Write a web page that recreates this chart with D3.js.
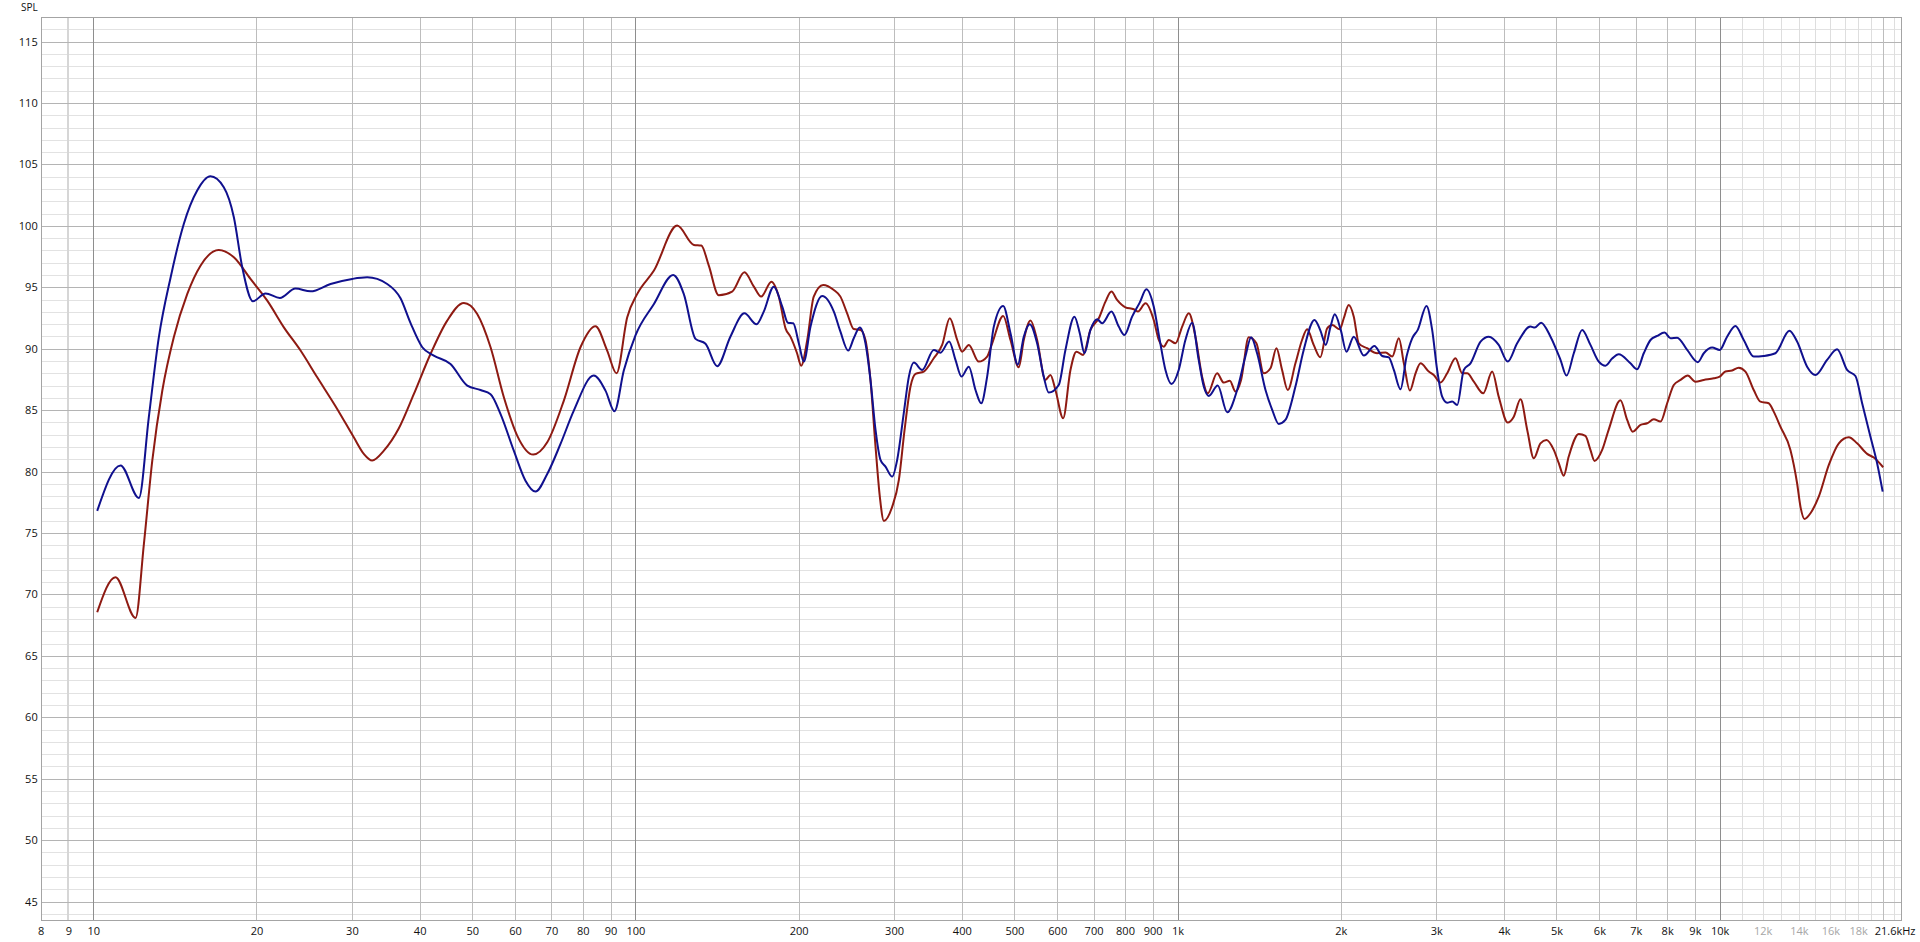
<!DOCTYPE html>
<html><head><meta charset="utf-8">
<script src="https://cdn.jsdelivr.net/npm/d3@7"></script>
<style>
body{margin:0;background:#fff}
svg{display:block}
text{font-family:"Open Sans","DejaVu Sans",sans-serif}
</style>
</head><body>
<svg id="c" width="1920" height="942"></svg>
<script>
// ---- data ----
const yTicks = [45,50,55,60,65,70,75,80,85,90,95,100,105,110,115];
const xTickValues = [8,9,10,20,30,40,50,60,70,80,90,100,200,300,400,500,600,700,800,900,1000,2000,3000,4000,5000,6000,7000,8000,9000,10000,12000,14000,16000,18000,21600];
const xTickLabels = ["8","9","10","20","30","40","50","60","70","80","90","100","200","300","400","500","600","700","800","900","1k","2k","3k","4k","5k","6k","7k","8k","9k","10k","12k","14k","16k","18k","21.6kHz"];
const lightLabels = ["12k","14k","16k","18k"];

const blueHz = [10.17,11.23,12.14,12.66,13.21,13.89,14.69,15.55,16.45,17.41,18.17,18.83,19.7,20.79,22.09,23.61,25.17,27.4,30.04,32.01,34.85,36.88,38.47,40.45,42.48,45.6,48.96,51.8,54.06,56.38,59.67,62.7,65.43,68.77,72.76,76.99,83.8,88.07,91.5,95.2,100,108.2,117.4,122.8,129.1,134.7,141.5,149.7,158.9,167.3,172.5,180,186.6,191.1,195.5,200.2,204.5,210.4,221.1,232.3,238.9,246.9,252.8,259.4,265.7,271.4,277.3,283.2,289.3,297.7,304,312.6,319.5,326.3,338.1,355.1,365.4,379.1,389.4,399.4,412.1,424,434.4,445.5,458.3,476.9,491.9,507.4,520.5,533.9,550.8,566.5,578.6,603.8,621.2,645.4,660.2,673.5,690.8,710.8,725.9,755.2,779,798.1,824.6,851.6,876.1,903.8,927.2,950,974.5,1005,1034,1064,1094,1118,1142,1186,1235,1288,1334,1367,1402,1453,1495,1537,1581,1650,1709,1789,1834,1877,1915,1950,2000,2049,2114,2206,2308,2385,2453,2506,2578,2645,2709,2774,2879,2949,3012,3077,3143,3210,3280,3373,3470,3622,3751,3912,4065,4231,4477,4560,4684,4875,5086,5218,5382,5576,5776,5984,6157,6334,6513,6846,7043,7244,7454,7669,7911,8115,8349,8710,9112,9348,9687,10000,10320,10690,11076,11556,12056,12668,13447,13893,14496,15016,15781,16467,17179,17799,18313,18967,19516,19983];
const blueDb = [76.8,80.5,77.85,84.4,90.9,95.8,100.15,102.87,104.03,103.14,100.7,96.63,93.86,94.5,94.13,94.9,94.67,95.27,95.68,95.81,95.27,94.1,92.1,90.12,89.44,88.76,87.0,86.64,86.3,84.7,81.7,79.26,78.37,79.8,82.25,84.96,87.81,86.59,84.91,88.22,91.07,93.64,96.0,94.46,90.8,90.4,88.58,90.98,92.88,91.99,93.02,95.05,93.43,92.12,92.07,90.44,88.95,91.8,94.29,93.02,91.39,89.85,90.85,91.72,90.44,87.46,83.39,80.95,80.4,79.59,80.95,84.74,87.73,88.87,88.27,89.9,89.68,90.58,89.09,87.73,88.54,86.64,85.56,87.73,91.8,93.48,91.26,88.7,90.98,91.99,90.44,87.73,86.43,87.05,89.9,92.61,91.26,89.63,91.53,92.4,92.07,93.02,91.8,91.12,92.61,93.75,94.84,93.43,90.71,88.27,87.13,88.27,90.71,92.12,89.09,86.92,86.16,87.0,84.83,86.64,89.36,90.93,89.63,86.64,85.02,83.88,84.2,86.92,89.9,92.34,91.5,90.31,91.8,92.8,91.53,89.76,90.98,89.44,90.22,89.41,89.3,88.27,86.7,89.36,90.85,91.53,93.48,91.53,88.27,86.1,85.61,85.7,85.42,88.27,88.81,90.58,90.98,90.31,88.95,90.44,91.8,91.72,92.12,90.98,89.09,87.81,89.63,91.53,90.31,88.95,88.62,89.2,89.55,88.81,88.33,89.63,90.71,91.04,91.31,90.85,90.9,89.9,88.9,89.63,90.09,89.9,90.98,91.85,90.71,89.36,89.41,89.63,91.47,90.58,88.54,87.86,89.09,89.95,88.27,87.78,85.56,82.85,80.68,78.37];

const redHz = [10.17,10.99,11.97,12.4,12.85,13.41,14.08,14.91,15.77,17.04,18.17,19.5,20.94,22.47,24.12,25.89,28.18,30.24,31.56,32.7,34.36,36.6,39.02,41.89,44.97,48.27,51.08,54.06,57.2,60.53,64.8,68.77,73.8,79.2,84.4,88.7,92.3,96.6,100.8,108.2,119.4,128.2,132.3,136.5,142.5,150.8,158.9,165.4,170.6,178.2,183.9,189.2,193.2,198.7,202.2,207.5,213.3,222,232.3,238.9,245.8,252.8,260.2,265.7,271.4,277.3,282.4,287.3,297.7,306.2,313.7,321.7,328.6,340.4,355.1,368,380.1,392.3,400.6,412.1,429.9,445.5,455.1,476.9,491.9,509.5,520.5,535.5,550.8,570.5,582.9,595.4,615.2,634.6,650.9,669.6,690.8,715.7,736.4,755.2,773.6,801.5,830.4,844.7,872.9,903.8,923.5,943.3,963.4,991.3,1020,1049,1079,1110,1137,1183,1217,1249,1279,1310,1353,1398,1442,1484,1522,1559,1597,1650,1697,1734,1783,1834,1888,1929,1992,2026,2069,2114,2159,2237,2334,2420,2489,2560,2615,2683,2748,2807,2907,2969,3055,3143,3256,3350,3422,3520,3663,3805,3912,4065,4171,4292,4416,4541,4671,4792,4943,5049,5157,5267,5497,5655,5776,5876,6071,6240,6561,6751,6914,7144,7350,7559,7778,8001,8229,8466,8732,9019,9348,9755,10000,10245,10541,10842,11156,11556,11888,12314,12580,12942,13505,13893,14093,14336,14705,15233,15898,16588,17303,17928,18707,19244,20024];
const redDb = [68.55,71.4,68.09,74.1,80.9,86.6,90.93,94.46,96.76,98.04,97.44,95.68,93.91,91.74,89.85,87.67,85.1,82.79,81.44,80.9,81.7,83.5,86.3,89.57,92.29,93.72,92.83,90.12,86.05,82.93,81.38,82.38,85.78,90.12,91.83,89.85,88.0,92.56,94.46,96.36,100.02,98.45,98.4,96.8,94.35,94.65,96.22,95.05,94.24,95.46,94.24,91.66,90.98,89.63,88.62,90.71,94.24,95.19,94.78,94.24,92.88,91.6,91.53,90.71,87.46,82.03,77.96,75.98,77.15,79.32,83.39,86.92,87.95,88.14,89.22,90.31,92.48,90.71,89.76,90.31,88.95,89.36,90.44,92.67,90.71,88.49,90.71,92.29,90.71,87.46,87.87,86.64,84.34,88.27,89.76,89.49,91.53,92.48,93.83,94.65,93.97,93.37,93.21,93.02,93.7,92.34,90.71,90.17,90.71,90.44,91.8,92.88,90.98,87.73,86.37,88.0,87.24,87.4,86.51,87.46,90.93,90.44,88.0,88.41,90.04,88.27,86.64,88.81,90.71,91.58,90.31,89.3,91.66,91.93,91.58,92.48,93.56,92.61,90.44,90.04,89.63,89.7,89.36,90.85,88.81,86.59,88.0,88.81,88.14,87.86,87.24,88.0,89.22,88.0,88.0,87.32,86.37,88.14,86.1,83.99,84.47,85.88,83.39,81.08,82.3,82.57,81.76,80.68,79.67,81.22,83.06,82.9,81.76,80.87,81.76,83.4,85.8,84.2,83.25,83.8,83.93,84.26,84.07,85.56,87.05,87.46,87.81,87.32,87.46,87.59,87.73,88.14,88.22,88.46,88.14,86.64,85.69,85.56,84.88,83.66,81.76,79.05,77.15,76.14,76.61,77.96,80.54,82.3,82.79,82.3,81.44,81.14,80.35];

// ---- scales ----
const svg = d3.select("#c");
const x = d3.scaleLog().domain([8, 21600]).range([40.7, 1901]);
const y = d3.scaleLinear().domain([43.5, 117]).range([920, 17]);
const X0 = x.range()[0], X1 = x.range()[1], Y0 = y.range()[1], Y1 = y.range()[0];

const g = svg.append("g").attr("shape-rendering", "crispEdges");

// horizontal minor grid (1 dB)
const minorY = d3.range(44, 117).filter(v => v % 5 !== 0);
g.selectAll(".hmin").data(minorY).join("line")
  .attr("x1", X0).attr("x2", X1)
  .attr("y1", d => Math.round(y(d)) + 0.5).attr("y2", d => Math.round(y(d)) + 0.5)
  .attr("stroke", "#e2e2e2").attr("stroke-width", 1);

// vertical grid
const vLight = [11000,12000,13000,14000,15000,16000,17000,18000,19000,21000];
const vMid = [20,30,40,50,60,70,80,90,200,300,400,500,600,700,800,900,2000,3000,4000,5000,6000,7000,8000,9000,20000];
const vDec = [10,100,1000,10000];
g.selectAll(".vl").data(vLight).join("line")
  .attr("x1", d => Math.round(x(d)) + 0.5).attr("x2", d => Math.round(x(d)) + 0.5)
  .attr("y1", Y0).attr("y2", Y1).attr("stroke", "#dedede");
g.append("line").datum(9)
  .attr("x1", d => Math.round(x(d))).attr("x2", d => Math.round(x(d)))
  .attr("y1", Y0).attr("y2", Y1).attr("stroke", "#d6d6d6").attr("stroke-width", 2);

// horizontal major grid (5 dB)
g.selectAll(".hmaj").data(yTicks).join("line")
  .attr("x1", X0).attr("x2", X1)
  .attr("y1", d => Math.round(y(d)) + 0.5).attr("y2", d => Math.round(y(d)) + 0.5)
  .attr("stroke", "#b4b4b4");

g.selectAll(".vm").data(vMid).join("line")
  .attr("x1", d => Math.round(x(d)) + 0.5).attr("x2", d => Math.round(x(d)) + 0.5)
  .attr("y1", Y0).attr("y2", Y1).attr("stroke", "#bdbdbd");
g.selectAll(".vd").data(vDec).join("line")
  .attr("x1", d => Math.round(x(d)) + 0.5).attr("x2", d => Math.round(x(d)) + 0.5)
  .attr("y1", Y0).attr("y2", Y1).attr("stroke", "#8e8e8e");

// border
g.append("rect")
  .attr("x", Math.round(X0) + 0.5).attr("y", Math.round(Y0) + 0.5)
  .attr("width", Math.round(X1) - Math.round(X0)).attr("height", Math.round(Y1) - Math.round(Y0))
  .attr("fill", "none").attr("stroke", "#a4a4a4");

// ---- axes ----
const ax = svg.append("g").attr("transform", `translate(0,${Y1})`)
  .call(d3.axisBottom(x).tickValues(xTickValues).tickFormat((d, i) => xTickLabels[i]).tickSize(0).tickPadding(7));
ax.select(".domain").remove();
ax.selectAll("text").attr("font-size", 11).attr("font-family", '"Open Sans","DejaVu Sans",sans-serif')
  .attr("fill", (d, i) => lightLabels.includes(xTickLabels[i]) ? "#a6a6a6" : "#111");
ax.selectAll(".tick").filter(d => d === 21600).select("text")
  .attr("text-anchor", "end").attr("x", 1915 - x(21600));

const ay = svg.append("g").attr("transform", `translate(${X0},0)`)
  .call(d3.axisLeft(y).tickValues(yTicks).tickSize(0).tickPadding(3));
ay.select(".domain").remove();
ay.selectAll("text").attr("font-size", 11).attr("font-family", '"Open Sans","DejaVu Sans",sans-serif').attr("fill", "#111");

svg.append("text").attr("x", X0 - 3).attr("y", 11).attr("text-anchor", "end")
  .attr("font-size", 10).attr("fill", "#111").text("SPL");

// ---- curves ----
const line = d3.line().x(d => x(d[0])).y(d => y(d[1])).curve(d3.curveMonotoneX);
const redPts = redHz.map((f, i) => [f, redDb[i]]);
const bluePts = blueHz.map((f, i) => [f, blueDb[i]]);

svg.append("path").datum(redPts).attr("d", line)
  .attr("fill", "none").attr("stroke", "#8e1a12").attr("stroke-width", 2).attr("stroke-linejoin", "round");
svg.append("path").datum(bluePts).attr("d", line)
  .attr("fill", "none").attr("stroke", "#10108e").attr("stroke-width", 2).attr("stroke-linejoin", "round");
</script>
</body></html>
